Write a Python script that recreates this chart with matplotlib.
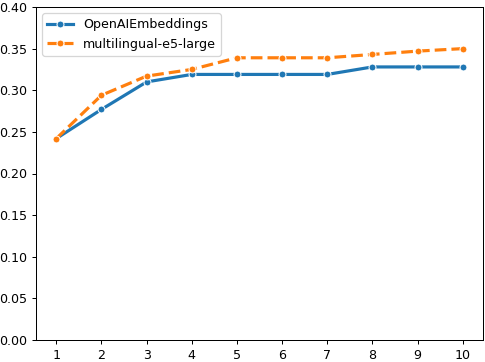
import matplotlib
matplotlib.use("Agg")
import matplotlib.pyplot as plt

k_values = [1, 2, 3, 4, 5, 6, 7, 8, 9, 10]
openai_scores = [0.242, 0.277, 0.310, 0.319, 0.319, 0.319, 0.319, 0.328, 0.328, 0.328]
e5_scores = [0.242, 0.294, 0.317, 0.325, 0.339, 0.339, 0.339, 0.343, 0.347, 0.350]

# original looks like a tight-cropped default figure scaled down ~0.91
DPI = 91
fig = plt.figure(figsize=(485 / DPI, 362 / DPI), dpi=DPI)
ax = fig.add_axes([36 / 485, 22 / 362, 447 / 485, 333 / 362])

ax.plot(k_values, openai_scores, color="#1f77b4", linewidth=2.5, marker="o",
        markersize=5.5, markeredgecolor="white", markeredgewidth=0.8,
        label="OpenAIEmbeddings")
ax.plot(k_values, e5_scores, color="#ff7f0e", linewidth=2.5, linestyle="--",
        marker="o", markersize=5.5, markeredgecolor="white", markeredgewidth=0.8,
        label="multilingual-e5-large")

ax.set_ylim(0, 0.40)
ax.set_xticks(k_values)
ax.set_yticks([0.0, 0.05, 0.10, 0.15, 0.20, 0.25, 0.30, 0.35, 0.40])
ax.legend(loc="upper left")

fig.savefig("out.png", dpi=DPI)
